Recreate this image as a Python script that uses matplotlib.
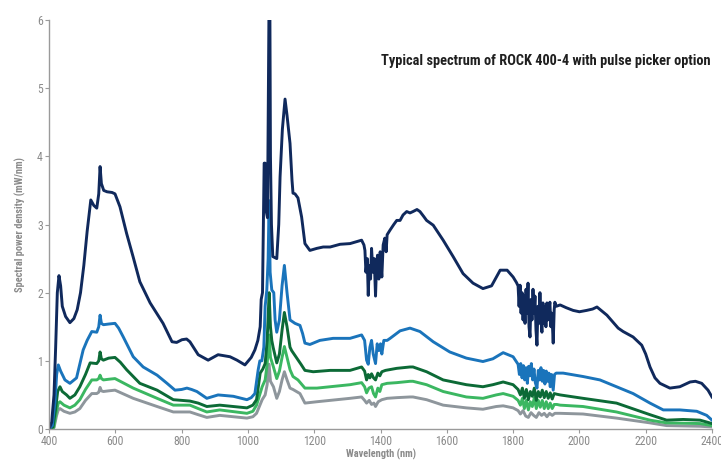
import matplotlib
matplotlib.use("Agg")
import matplotlib.pyplot as plt
from matplotlib import font_manager

# ---------------- data ----------------
navy_x = [400,408,415,420,425,430,435,440,450,463,475,485,495,505,515,526,535,544,550,554,558,565,575,590,599,
          614,634,654,674,705,744,771,785,801,815,825,850,880,910,946,967,991,1010,1021,1030,1037,1040,1044,1049,
          1052,1055,1059,1062,1064,1066,1068,1071,1075,1087,1093,1097,1104,1112,1118,1127,1133,1136,1142,1151,
          1162,1172,1187,1208,1227,1248,1278,1308,1343,1350,1353,1356,1360,1363,1366,1370,1373,1377,1381,1385,
          1388,1391,1395,1399,1404,1408,1413,1417,1420,1429,1440,1449,1459,1468,1479,1489,1498,1510,1519,1530,
          1539,1559,1589,1619,1649,1679,1709,1735,1761,1782,1800,1810,
          1815,1818,1821,1824,1827,1830,1833,1836,1839,1842,1845,1848,1851,1854,1857,1860,1863,1866,1869,1872,
          1875,1878,1881,1884,1887,1890,1893,1896,1899,1902,1905,1908,1911,1914,1917,1921,1924,1926,1930,
          1942,1960,1981,2000,2022,2040,2053,2068,2083,2117,2132,2162,2188,2200,2213,2228,2243,
          2273,2303,2334,2350,2369,2388,2400]
navy_y = [0,0.1,0.5,1.2,2.0,2.25,2.1,1.8,1.65,1.56,1.62,1.75,2.0,2.4,2.9,3.36,3.28,3.24,3.45,3.85,3.6,3.5,3.48,3.47,3.45,
          3.26,2.87,2.52,2.16,1.85,1.55,1.28,1.27,1.31,1.32,1.28,1.09,1.01,1.09,1.06,1.01,0.94,1.05,1.16,1.3,1.5,1.9,2.0,3.9,
          3.9,3.2,3.1,5.0,6.5,6.5,4.0,3.0,2.53,2.5,3.0,3.7,4.4,4.84,4.6,4.19,3.65,3.46,3.45,3.39,
          3.11,2.72,2.62,2.65,2.67,2.67,2.71,2.72,2.77,2.7,2.62,2.3,2.5,1.96,2.4,2.2,2.65,2.3,2.5,1.95,
          2.4,2.55,2.2,2.6,2.23,2.7,2.8,2.6,2.85,2.92,3.0,3.06,3.06,3.14,3.19,3.17,3.19,3.22,3.19,3.12,
          3.06,2.99,2.77,2.53,2.28,2.14,2.06,2.1,2.33,2.33,2.23,2.15,
          2.1,1.8,2.11,1.7,2.0,1.6,1.95,1.55,2.05,1.7,2.14,1.5,1.35,1.9,1.6,2.05,1.7,1.95,1.45,1.23,
          1.8,1.55,2.0,1.6,1.42,1.85,1.55,1.8,1.5,1.85,1.6,1.75,1.86,1.5,1.7,1.26,1.75,1.86,1.8,
          1.82,1.78,1.74,1.72,1.74,1.76,1.79,1.73,1.67,1.48,1.43,1.35,1.23,1.1,0.91,0.75,0.67,
          0.6,0.62,0.69,0.7,0.67,0.57,0.47]

blue_x = [400,410,418,423,428,435,448,463,483,503,515,529,544,550,554,558,564,580,599,610,624,654,684,726,756,780,800,
          816,830,846,876,910,956,997,1010,1021,1031,1036,1042,1048,1052,1057,1061,1064,1067,1072,1078,1082,1087,1095,
          1103,1110,1118,1127,1142,1157,1165,1172,1187,1217,1257,1308,1343,1352,1358,1363,1368,1373,1378,1385,1390,
          1395,1400,1404,1410,1420,1429,1459,1489,1519,1559,1609,1659,1709,1739,1770,1800,1815,1819,1823,1827,1831,
          1835,1839,1843,1847,1851,1855,1859,1863,1867,1872,1876,1880,1884,1888,1892,1896,1900,1904,1908,1912,1916,
          1921,1925,1930,1951,2011,2062,2112,2162,2213,2253,2303,2354,2384,2400]
blue_y = [0,0.05,0.4,0.8,0.94,0.85,0.72,0.67,0.75,1.16,1.3,1.43,1.42,1.5,1.67,1.55,1.53,1.54,1.55,1.48,1.35,1.06,0.91,0.79,0.67,0.57,0.58,
          0.6,0.58,0.55,0.45,0.5,0.48,0.43,0.46,0.52,0.87,1.0,1.0,1.2,1.8,2.04,2.5,3.35,2.3,2.04,2.0,1.6,1.42,1.6,
          2.1,2.4,2.0,1.6,1.55,1.52,1.4,1.26,1.24,1.3,1.33,1.33,1.38,1.3,1.01,0.95,1.2,1.3,1.1,0.96,1.25,
          1.15,1.25,1.1,1.3,1.3,1.33,1.44,1.48,1.43,1.28,1.13,1.04,0.99,1.03,1.12,1.06,0.95,0.8,0.96,0.75,0.93,
          0.72,0.9,0.67,0.92,0.78,0.96,0.72,0.88,0.68,0.6,0.86,0.72,0.9,0.7,0.86,0.66,0.85,0.7,0.82,0.62,0.8,
          0.57,0.8,0.82,0.82,0.77,0.72,0.62,0.52,0.38,0.28,0.28,0.26,0.2,0.13]

dgreen_x = [400,412,420,426,433,440,453,463,478,493,510,524,544,550,554,558,564,580,599,615,634,674,726,775,800,825,850,
            876,915,956,997,1015,1026,1037,1045,1052,1058,1064,1068,1072,1076,1087,1095,1103,1110,1118,1127,1132,1146,
            1160,1172,1197,1248,1308,1343,1352,1358,1363,1368,1373,1379,1385,1392,1398,1404,1415,1449,1489,1498,1539,
            1589,1659,1709,1739,1770,1800,1815,1822,1828,1834,1840,1846,1852,1858,1864,1870,1876,1882,1888,1894,1900,
            1906,1912,1918,1924,1932,1942,2011,2112,2213,2263,2313,2364,2400]
dgreen_y = [0,0.03,0.3,0.55,0.62,0.55,0.5,0.45,0.5,0.62,0.8,0.97,0.96,1.0,1.13,1.03,1.01,1.04,1.05,0.98,0.87,0.67,0.57,0.43,0.42,0.41,0.38,
            0.33,0.35,0.33,0.31,0.35,0.43,0.82,0.88,0.96,1.3,2.0,1.5,1.3,1.2,0.97,1.1,1.45,1.71,1.5,1.2,1.15,1.05,
            0.95,0.86,0.84,0.86,0.86,0.91,0.85,0.72,0.8,0.75,0.81,0.75,0.72,0.82,0.78,0.84,0.86,0.89,0.91,0.91,0.84,
            0.72,0.65,0.62,0.65,0.69,0.65,0.58,0.5,0.6,0.45,0.58,0.43,0.55,0.48,0.6,0.42,0.55,0.47,0.57,0.46,0.55,
            0.45,0.53,0.44,0.52,0.51,0.5,0.45,0.38,0.21,0.13,0.14,0.13,0.08]

lgreen_x = [400,414,422,428,433,445,463,478,493,510,529,544,550,554,558,564,580,599,654,726,775,825,850,876,915,997,1015,
            1026,1043,1052,1058,1064,1068,1077,1087,1095,1103,1110,1118,1127,1136,1151,1172,1208,1248,1308,1343,1352,
            1358,1365,1373,1379,1385,1392,1398,1404,1420,1449,1489,1498,1539,1589,1659,1709,1749,1770,1800,1815,1822,
            1828,1834,1840,1846,1852,1858,1864,1870,1876,1882,1888,1894,1900,1906,1912,1918,1924,1932,1942,2011,2112,
            2213,2263,2364,2400]
lgreen_y = [0,0.02,0.25,0.38,0.4,0.35,0.31,0.35,0.43,0.58,0.72,0.72,0.74,0.79,0.74,0.72,0.73,0.74,0.6,0.45,0.35,0.35,0.3,0.25,0.28,0.23,0.26,
            0.35,0.62,0.72,0.95,1.38,1.05,0.91,0.74,0.85,1.05,1.21,1.05,0.87,0.77,0.72,0.6,0.6,0.62,0.65,0.68,0.62,
            0.53,0.6,0.62,0.52,0.47,0.6,0.55,0.65,0.67,0.68,0.7,0.7,0.65,0.55,0.47,0.45,0.5,0.52,0.48,0.42,0.35,
            0.45,0.3,0.42,0.28,0.4,0.33,0.46,0.3,0.42,0.32,0.42,0.3,0.4,0.3,0.38,0.3,0.36,0.36,0.35,0.33,0.25,
            0.13,0.09,0.08,0.05]

gray_x = [400,415,423,428,433,445,463,478,493,510,529,544,550,554,558,564,580,599,654,726,775,825,850,876,915,997,1015,
          1026,1043,1052,1058,1064,1068,1077,1087,1095,1103,1110,1118,1127,1136,1157,1172,1208,1248,1308,1343,1352,1358,
          1366,1373,1380,1385,1393,1404,1420,1449,1489,1498,1539,1589,1659,1709,1749,1770,1800,1815,1822,1830,1838,
          1846,1854,1862,1870,1878,1886,1894,1902,1910,1918,1926,1942,2011,2112,2213,2263,2364,2400]
gray_y = [0,0.02,0.2,0.28,0.3,0.26,0.23,0.25,0.3,0.42,0.52,0.52,0.54,0.61,0.56,0.55,0.56,0.57,0.45,0.33,0.25,0.25,0.21,0.17,0.2,0.16,0.18,
          0.23,0.43,0.5,0.65,0.95,0.7,0.62,0.45,0.55,0.72,0.84,0.72,0.6,0.58,0.52,0.38,0.4,0.42,0.45,0.47,0.42,0.38,
          0.42,0.36,0.38,0.33,0.4,0.43,0.45,0.46,0.47,0.47,0.43,0.35,0.31,0.29,0.33,0.34,0.31,0.27,0.22,0.27,0.19,
          0.17,0.24,0.2,0.17,0.24,0.2,0.23,0.18,0.23,0.2,0.23,0.23,0.22,0.16,0.09,0.05,0.04,0.03]

series = [
    (gray_x, gray_y, "#8e969c"),
    (lgreen_x, lgreen_y, "#3bb761"),
    (dgreen_x, dgreen_y, "#0c6a36"),
    (blue_x, blue_y, "#1a74bb"),
    (navy_x, navy_y, "#10295c"),
]

x_ticks = [400, 600, 800, 1000, 1200, 1400, 1600, 1800, 2000, 2200, 2400]
y_ticks = [0, 1, 2, 3, 4, 5, 6]
title = "Typical spectrum of ROCK 400-4 with pulse picker option"
xlabel = "Wavelength (nm)"
ylabel = "Spectral power density (mW/nm)"

# ---------------- fonts ----------------
names = {f.name for f in font_manager.fontManager.ttflist}
narrow = [n for n in ["Liberation Sans Narrow", "DejaVu Sans Condensed", "Roboto Condensed",
                      "Open Sans Condensed"] if n in names]
fam = narrow + ["DejaVu Sans"]
condensed = bool(narrow)

# ---------------- plot ----------------
fig = plt.figure(figsize=(7.21, 4.61), dpi=100)
ax = fig.add_axes([0.068, 0.0694, 0.9195, 0.8872])

for xs, ys, c in series:
    ax.plot(xs, ys, color=c, lw=2.1, solid_joinstyle="round")

ax.set_xlim(400, 2400)
ax.set_ylim(0, 6)
ax.set_xticks(x_ticks)
ax.set_yticks(y_ticks)

gray = "#9a9a9a"
for s in ["top", "right"]:
    ax.spines[s].set_visible(False)
for s in ["left", "bottom"]:
    ax.spines[s].set_color(gray)
    ax.spines[s].set_linewidth(1.0)
ax.tick_params(axis="both", colors=gray, labelcolor="#8a8a8a", length=3, width=0.8,
               labelsize=8.5 if condensed else 7.5, pad=1.5)
for lab in ax.get_xticklabels() + ax.get_yticklabels():
    lab.set_family(fam)

ax.set_xlabel(xlabel, fontsize=7.5 if condensed else 6.5, color="#8a8a8a", fontweight="bold",
              family=fam, labelpad=0.5)
ax.set_ylabel(ylabel, fontsize=7.5 if condensed else 6.5, color="#8a8a8a", fontweight="bold",
              family=fam, labelpad=8)

fig.text(0.985, 0.868, title, ha="right", va="center", fontsize=10.4 if condensed else 8.5,
         fontweight="bold", family=fam, color="#1f1f1f")

fig.savefig("out.png", dpi=100)
